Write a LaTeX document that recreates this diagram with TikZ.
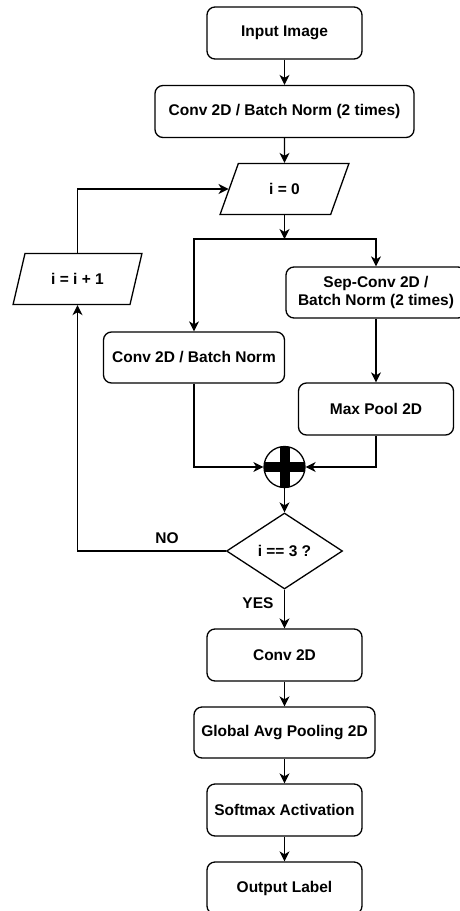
\documentclass[tikz,border=0pt]{standalone}
\usepackage{fontspec}
\setmainfont{Liberation Sans}
\usepackage{tikz}
\usetikzlibrary{arrows.meta,shapes,shapes.geometric,positioning}

\tikzset{
  blk/.style = {draw, rounded corners=8pt, inner sep=0pt, minimum width=155pt, minimum height=52pt, align=center},
  para/.style = {draw, trapezium, trapezium left angle=62, trapezium right angle=118, trapezium stretches=true, inner sep=0pt, minimum width=129pt, minimum height=51pt},
  sumnode/.style = {draw, circle, inner sep=0pt, minimum size=41pt,
    path picture={\draw[line width=10pt] (path picture bounding box.north) -- (path picture bounding box.south);
                  \draw[line width=10pt] (path picture bounding box.west) -- (path picture bounding box.east);}},
  arr/.style = {-{Stealth[length=10pt,width=10pt,inset=3pt]}}
}

\begin{document}
\begin{tikzpicture}[x=1pt, y=-1pt, line width=1.3pt, font=\fontsize{15.5}{18.5}\selectfont\bfseries]
\useasboundingbox (0,0) rectangle (460,911);
\node[blk] (input) at (284.5,33) {Input Image};
\node[blk, minimum width=259pt] (conva) at (284.5,111.5) {Conv 2D / Batch Norm (2 times)};
\node[para] (izero) at (284.5,189) {i = 0};
\node[para] (iinc) at (77.5,279) {i = i + 1};
\node[blk, minimum width=180pt, minimum height=51pt] (sepconv) at (376,292.5) {Sep-Conv 2D /\\Batch Norm (2 times)};
\node[blk, minimum width=181pt, minimum height=51pt] (convb) at (194,357.5) {Conv 2D / Batch Norm};
\node[blk] (maxpool) at (376,409) {Max Pool 2D};
\node[sumnode] (plus) at (284.5,467) {};
\node[draw, diamond, inner sep=0pt, minimum width=116pt, minimum height=76pt] (check) at (284.5,551) {i == 3 ?};
\node[blk] (conv) at (284.5,655) {Conv 2D};
\node[blk, minimum width=181pt, minimum height=51pt] (gap) at (284.5,732.5) {Global Avg Pooling 2D};
\node[blk] (softmax) at (284.5,810) {Softmax Activation};
\node[blk] (output) at (284.5,888) {Output Label};
\coordinate (split) at (284.5,239);

\draw[arr] (input) -- (conva);
\draw[arr] (conva) -- (izero);
\draw[arr] (izero) -- (split);
\draw[arr] (split) -| (convb);
\draw[arr] (split) -| (sepconv);
\draw[arr] (sepconv) -- (maxpool);
\draw[arr] (convb) |- (plus);
\draw[arr] (maxpool) |- (plus);
\draw[arr] (plus) -- (check);
\draw[arr] (check) -| (iinc);
\draw[arr] (iinc) |- (izero);
\draw[arr] (check) -- (conv);
\draw[arr] (conv) -- (gap);
\draw[arr] (gap) -- (softmax);
\draw[arr] (softmax) -- (output);
\node (no) at (167,538) {NO};
\node (yes) at (258,603) {YES};
\end{tikzpicture}
\end{document}
